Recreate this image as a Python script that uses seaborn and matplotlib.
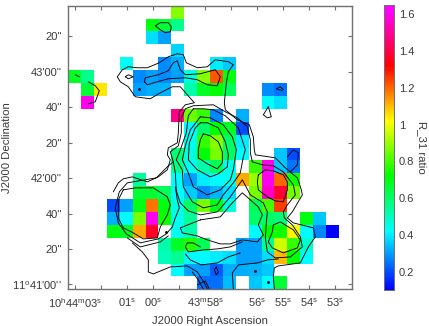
import numpy as np
import seaborn as sns
import matplotlib.pyplot as plt
from matplotlib.colors import LinearSegmentedColormap

sns.set_style("white")
plt.rcParams["font.family"] = ["Liberation Sans", "DejaVu Sans"]
plt.rcParams["mathtext.fontset"] = "custom"
plt.rcParams["mathtext.rm"] = "Liberation Sans"

N = np.nan
# R_31 ratio per map cell, row 0 at the top
ratio_rows = [
    [N, N, N, N, N, N, N, N, 0.88, N, N, N, N, N, N, N, N, N, N, N, N, N],
    [N, N, N, N, N, N, 0.70, 0.66, 0.56, N, N, N, N, N, N, N, N, N, N, N, N, N],
    [N, N, N, N, N, N, 0.38, 0.30, N, N, N, N, N, N, N, N, N, N, N, N, N, N],
    [N, N, N, N, N, N, N, N, 0.37, N, N, N, N, N, N, N, N, N, N, N, N, N],
    [N, N, N, N, 0.43, N, N, 0.28, 0.32, N, N, 0.40, 0.36, N, N, N, N, N, N, N, N, N],
    [0.68, 0.56, N, N, N, 0.28, 0.30, 0.28, 0.30, 0.46, 0.88, 1.22, 0.70, N, N, N, N, N, N, N, N, N],
    [N, 0.66, 1.05, N, N, 0.30, 0.32, 0.33, N, 0.52, 0.68, 0.72, 0.62, N, N, 0.28, 0.25, N, N, N, N, N],
    [N, 1.60, N, N, N, N, N, N, N, N, N, N, N, N, N, 0.42, 0.38, N, N, N, N, N],
    [N, N, N, N, N, N, N, N, 1.47, 0.85, 0.78, 0.27, N, 0.32, N, N, N, N, N, N, N, N],
    [N, N, N, N, N, N, N, N, N, 0.42, 0.60, 0.72, 0.68, 0.20, N, N, N, N, N, N, N, N],
    [N, N, N, N, N, N, N, N, N, 0.44, 0.78, 0.88, 0.60, 0.40, N, N, N, N, N, N, N, N],
    [N, N, N, N, N, N, N, N, 0.58, 0.46, 0.72, 0.86, 0.60, 0.42, N, N, 0.35, 0.20, N, N, N, N],
    [N, N, N, N, N, N, N, N, 0.56, 0.44, 0.52, 0.62, 0.45, N, 0.78, 1.60, 0.35, 0.25, N, N, N, N],
    [N, N, N, N, N, 0.54, N, N, 0.42, 0.30, 0.40, 0.42, 0.44, 1.12, 0.90, 1.60, 1.20, 0.74, N, N, N, N],
    [N, N, N, N, N, 0.66, 0.66, 0.62, 0.42, 0.36, 0.28, 0.33, 0.38, N, 0.86, 1.55, 1.38, 0.86, N, N, N, N],
    [N, N, N, 0.20, 0.30, 0.70, 1.18, 0.70, 0.45, 0.60, 0.86, 0.70, 0.46, N, 0.62, 0.80, 1.25, N, N, N, N, N],
    [N, N, N, 0.32, 0.42, 0.86, 1.60, 0.74, 0.44, 0.54, N, N, N, N, 0.60, 0.60, 0.58, N, 0.70, 0.35, N, N],
    [N, N, N, 0.70, 0.68, 1.12, 1.36, N, 0.44, 0.52, N, N, N, N, 0.42, 0.72, 0.74, 1.02, 0.42, 0.27, 0.10, N],
    [N, N, N, N, N, N, N, 0.52, 0.68, 0.76, 0.62, N, N, 0.30, 0.30, 0.56, 0.96, 0.78, 0.48, N, N, N],
    [N, N, N, N, N, N, N, 0.50, 0.55, 0.42, 0.42, 0.40, 0.38, 0.30, 0.30, 0.38, 1.10, 0.72, 0.42, N, N, N],
    [N, N, N, N, N, N, N, N, 0.42, 0.30, 0.30, 0.22, 0.32, 0.32, 0.33, 0.35, N, N, N, N, N, N],
    [N, N, N, N, N, N, N, N, N, N, 0.24, 0.24, 0.34, N, 0.35, 0.42, 0.66, N, N, N, N, N],
]

# CO contours in map units from the top left corner of the map
top_loop = [(87, 20), (92, 17), (100, 17), (103, 21), (102, 26), (97, 27), (92, 24), (87, 20)]
far_left_a = [(7, 69), (11, 71)]
far_left_b = [(20, 76), (27, 80), (31, 85), (27, 96), (20, 98)]
ridge_loop = [(77, 72), (90, 69), (100, 65), (105, 57), (109, 55), (112, 64), (117, 69), (132, 68),
              (147, 64), (152, 71), (149, 80), (139, 79), (129, 74), (117, 72), (100, 73), (89, 76),
              (79, 79), (76, 76), (77, 72)]
ridge_small = [(57, 71), (60, 69), (65, 71), (60, 73), (57, 71)]
east_c = [(214, 85), (208, 83), (212, 81), (215, 84)]
east_drop = [(200, 101), (203, 111), (199, 112), (195, 109), (200, 101)]
outer_east = [(49, 71), (54, 64), (60, 61), (69, 62), (79, 62), (91, 57), (100, 51), (109, 48), (115, 49),
              (118, 57), (129, 62), (139, 61), (147, 54), (160, 56), (165, 59), (160, 66), (158, 77),
              (156, 97), (157, 104), (169, 114), (181, 119), (185, 131), (186, 144), (187, 149), (207, 152),
              (217, 162), (229, 172), (233, 184), (234, 189), (224, 206), (219, 212), (225, 217), (245, 222),
              (247, 231), (240, 241), (232, 257), (210, 260), (206, 262), (205, 271), (206, 283)]
outer_west = [(49, 71), (52, 76), (60, 81), (67, 91), (82, 93), (92, 87), (104, 81), (112, 81), (119, 89),
              (126, 97), (117, 99), (111, 106), (110, 127), (109, 137), (100, 142), (99, 149), (102, 154),
              (99, 164), (90, 171), (79, 176), (64, 171), (55, 173), (50, 177), (45, 186)]
core_1 = [(135, 128), (142, 130), (150, 136), (154, 146), (154, 157), (149, 163), (139, 158), (130, 152),
          (130, 144), (132, 134), (135, 128)]
core_2 = [(132, 117), (139, 117), (150, 122), (157, 136), (160, 149), (159, 161), (150, 168), (142, 171),
          (129, 164), (120, 154), (121, 137), (127, 122), (132, 117)]
core_3 = [(132, 111), (142, 112), (155, 119), (164, 131), (168, 144), (165, 164), (162, 174), (152, 184),
          (139, 189), (125, 181), (120, 167), (114, 154), (117, 140), (122, 124), (129, 115), (132, 111)]
core_4 = [(125, 103), (135, 103), (145, 104), (157, 110), (170, 122), (177, 144), (175, 151), (172, 167),
          (165, 177), (155, 189), (149, 199), (135, 202), (124, 196), (115, 181), (114, 164), (108, 154),
          (112, 144), (118, 127), (120, 110), (125, 103)]
wrap_east = [(184, 156), (194, 159), (205, 160), (215, 166), (225, 179), (227, 189), (219, 199), (215, 206),
             (216, 212), (224, 219), (232, 231), (234, 241), (222, 251), (207, 252), (199, 246), (197, 232),
             (198, 217), (199, 206), (195, 197), (182, 189), (174, 174), (162, 191), (149, 206), (132, 209),
             (120, 205), (112, 197), (108, 185), (107, 167), (105, 156), (102, 146), (110, 140), (113, 127),
             (113, 112), (117, 103), (125, 100), (145, 99), (157, 106), (169, 112), (179, 121), (182, 134),
             (182, 147), (184, 156)]
gap_loop = [(132, 214), (112, 222), (114, 227), (129, 230), (139, 234), (152, 238), (162, 238), (174, 234),
            (189, 236), (195, 229), (190, 219), (194, 209), (190, 201), (182, 194), (174, 187), (164, 197),
            (152, 211), (132, 214)]
west_inner = [(55, 184), (67, 182), (85, 182), (99, 191), (102, 199), (99, 209), (92, 221), (89, 232),
              (75, 233), (65, 227), (55, 222), (50, 212), (50, 194), (55, 184)]
west_mid = [(105, 156), (100, 160), (88, 172), (59, 177), (51, 186), (47, 202), (50, 217), (58, 228),
            (72, 237), (90, 233), (98, 228), (104, 221), (107, 212), (111, 202), (109, 194), (107, 181)]
west_low = [(59, 232), (72, 241), (92, 236), (100, 230)]
south_line = [(64, 237), (74, 246), (80, 254), (80, 266), (85, 268), (102, 261), (119, 260), (129, 266),
              (136, 277), (139, 283)]
lower_a = [(174, 236), (162, 241), (149, 243), (135, 244), (120, 246), (117, 241), (119, 237), (125, 237), (132, 241)]
lower_b = [(117, 248), (122, 254), (133, 259), (149, 257), (160, 251), (172, 247)]
bottom_a = [(124, 266), (130, 274), (135, 283)]
bottom_b = [(129, 279), (137, 275), (141, 283)]
bottom_loop = [(148, 261), (150, 266), (148, 269), (146, 264), (148, 261)]
bottom_c = [(165, 283), (164, 267), (170, 259), (189, 257), (199, 254), (210, 253)]
east_top = [(219, 151), (225, 144), (230, 147), (229, 159), (222, 166)]
east_core = [(190, 169), (197, 164), (205, 165), (215, 169), (219, 176), (219, 184), (215, 196), (207, 195),
             (199, 191), (190, 184), (189, 176), (190, 169)]
east_low = [(205, 219), (212, 216), (225, 224), (232, 234), (229, 242), (215, 247), (204, 242), (200, 236),
            (204, 226), (205, 219)]
contours = [top_loop, far_left_a, far_left_b, ridge_loop, ridge_small, east_c, east_drop, outer_east, outer_west,
            core_1, core_2, core_3, core_4, wrap_east, gap_loop, west_inner, west_mid, west_low, south_line,
            lower_a, lower_b, bottom_a, bottom_b, bottom_loop, bottom_c, east_top, east_core, east_low]
peak_x = [71, 187, 200, 98]
peak_y = [83, 265, 276, 226]

ra_seconds = [3, 2, 1, 0, -1, -2, -3, -4, -5, -6, -7]
ra_labels = [r"10$^{\rm h}$44$^{\rm m}$03$^{\rm s}$", "", r"01$^{\rm s}$", r"00$^{\rm s}$", "",
             r"43$^{\rm m}$58$^{\rm s}$", "", r"56$^{\rm s}$", r"55$^{\rm s}$", r"54$^{\rm s}$", r"53$^{\rm s}$"]
dec_arcsec = [0, 20, 40, 60, 80, 100, 120, 140]
dec_labels = ["11$^{\\rm o}$41'00''", "20''", "40''", "42'00''", "20''", "40''", "43'00''", "20''"]
bar_ticks = [0.2, 0.4, 0.6, 0.8, 1.0, 1.2, 1.4, 1.6]
bar_labels = ["0.2", "0.4", "0.6", "0.8", "1", "1.2", "1.4", "1.6"]

VMIN, VMAX = 0.1, 1.65
TEXT = "#3a3a3a"
EDGE = "#707070"
MAP_UNITS_PER_CELL = 12.88
SEC_PER_CELL = 0.4946
RA_LEFT = 3.258
ARCSEC_PER_CELL = 7.27
DEC_TOP = 157.2


def rainbow():
    stops = [(0.10, "#0000ff"), (0.42, "#00ffff"), (0.72, "#00ff00"), (1.02, "#ffff00"),
             (1.32, "#ff0000"), (1.62, "#ff00ff"), (1.65, "#ff00ff")]
    return LinearSegmentedColormap.from_list(
        "r31", [((v - VMIN) / (VMAX - VMIN), c) for v, c in stops]
    )


fig = plt.figure(figsize=(4.29, 3.26), dpi=100)
ax = fig.add_axes([68.3 / 429, 1 - 289.3 / 326, 283.4 / 429, 283.6 / 326])
cax = fig.add_axes([384 / 429, 1 - 290 / 326, 10 / 429, 285 / 326])

sns.heatmap(np.array(ratio_rows, dtype=float), ax=ax, cbar_ax=cax, cmap=rainbow(), vmin=VMIN, vmax=VMAX,
            square=False, xticklabels=False, yticklabels=False)

for line in contours:
    xs = [p[0] / MAP_UNITS_PER_CELL for p in line]
    ys = [p[1] / MAP_UNITS_PER_CELL for p in line]
    ax.plot(xs, ys, color="black", lw=0.65, solid_joinstyle="round")
ax.plot(np.array(peak_x) / MAP_UNITS_PER_CELL, np.array(peak_y) / MAP_UNITS_PER_CELL, ls="none",
        marker="o", ms=1.0, color="black")

ax.set_xticks([(RA_LEFT - s) / SEC_PER_CELL for s in ra_seconds])
ax.set_xticklabels(ra_labels, rotation=0)
ax.set_yticks([(DEC_TOP - d) / ARCSEC_PER_CELL for d in dec_arcsec])
ax.set_yticklabels(dec_labels, rotation=0)
ax.tick_params(axis="x", pad=5.2)
ax.tick_params(axis="both", direction="in", length=3.2, width=0.8, color=EDGE, top=True, right=True,
               bottom=True, left=True, labelsize=8, labelcolor=TEXT)
ax.tick_params(axis="y", pad=4.5)
ax.set_xlabel("J2000 Right Ascension", fontsize=8.2, color=TEXT, labelpad=4)
ax.set_ylabel("J2000 Declination", fontsize=8.2, color=TEXT, labelpad=0.5)
for spine in ax.spines.values():
    spine.set_visible(True)
    spine.set_color(EDGE)
    spine.set_linewidth(1.0)

cax.set_yticks(bar_ticks)
cax.set_yticklabels(bar_labels)
cax.tick_params(axis="y", direction="in", length=2, width=0.7, color="#404040", left=True, right=True,
                labelsize=8, labelcolor=TEXT, pad=3.5)
cax.set_ylabel("R_31 ratio", rotation=270, fontsize=8.2, color=TEXT, labelpad=9)
for spine in cax.spines.values():
    spine.set_visible(True)
    spine.set_color(EDGE)
    spine.set_linewidth(0.6)

fig.savefig("out.png", dpi=100)
